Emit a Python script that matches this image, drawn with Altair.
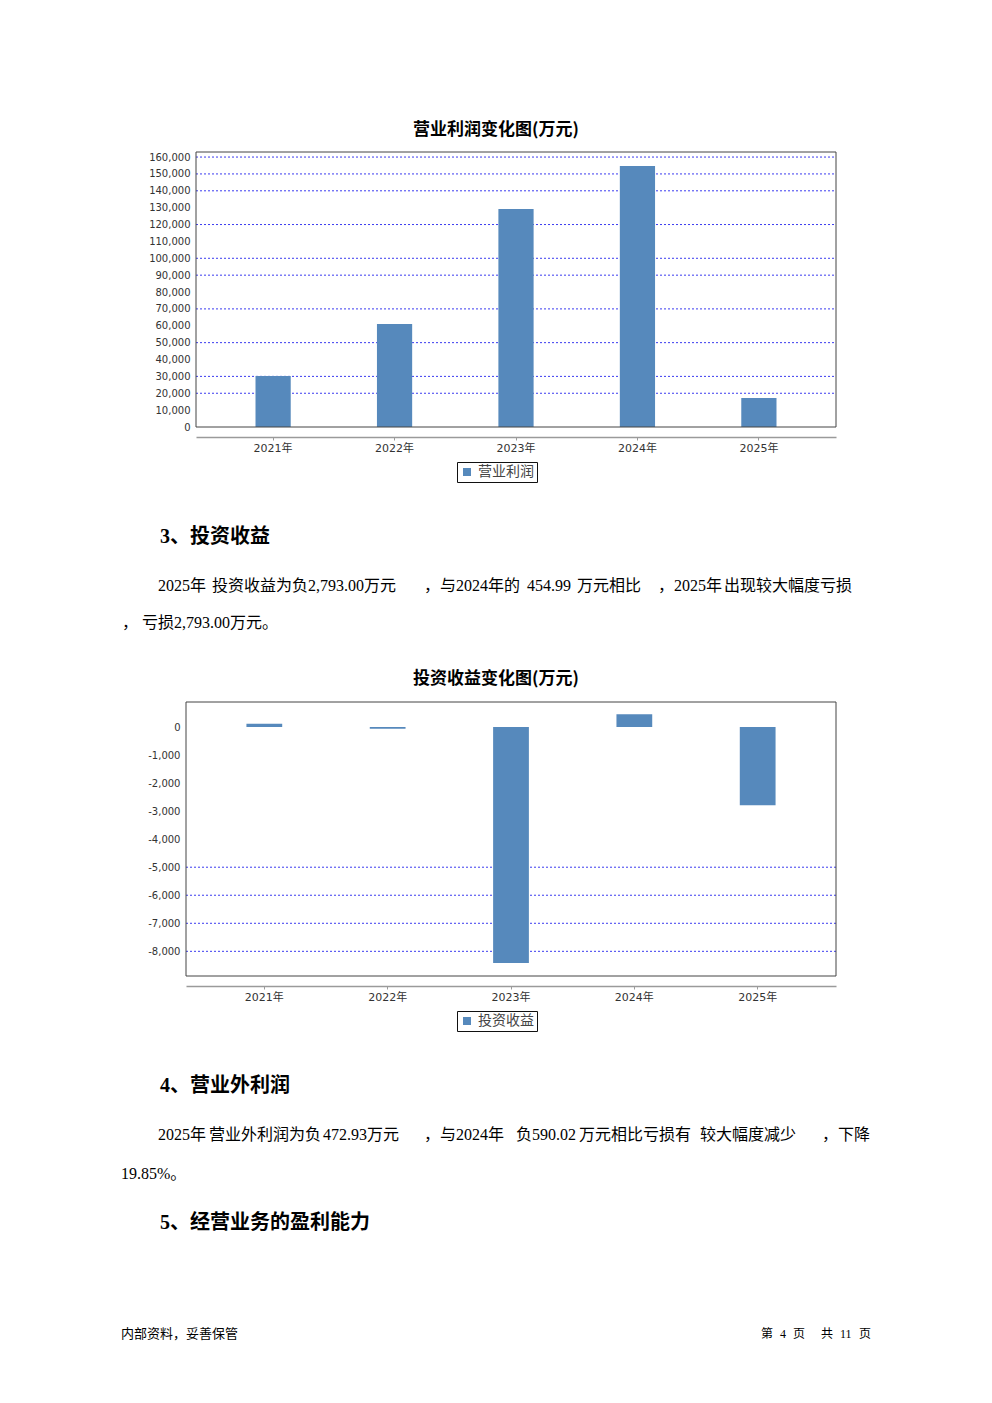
import altair as alt
import pandas as pd

# ---------------- data ----------------
years = ["2021年", "2022年", "2023年", "2024年", "2025年"]
op_profit = [30230, 61050, 129200, 154700, 17190]          # 营业利润 (万元)
inv_income = [115, -60, -8417, 454.99, -2793.00]           # 投资收益 (万元)
op_ticks = list(range(0, 160001, 10000))
inv_ticks = list(range(-8000, 1, 1000))
op_grid = [160000, 150000, 140000, 120000, 100000, 90000, 70000, 50000, 30000, 20000]
inv_grid = [-5000, -6000, -7000, -8000]

BAR = "#5689bc"
SERIF_CJK = "Liberation Serif, Noto Sans CJK SC"
SANS = "DejaVu Sans, Noto Sans CJK SC"
CJK = "Noto Sans CJK SC"

PAGE_W, PAGE_H = 976, 1387   # drawing area (page minus 8px margin)


def bar_chart(values, series, domain, ticks, grid, x_range, y_range, xaxis_y,
              legend_x, legend_y):
    df = pd.DataFrame({"year": years, "value": values, "series": [series] * len(years)})
    gdf = pd.DataFrame({"g": grid})
    fdf = pd.DataFrame({"hi": [domain[1]], "lo": [domain[0]]})
    yscale = alt.Scale(domain=domain, range=y_range, nice=False, zero=True)
    yaxis = alt.Axis(title=None, orient="left", offset=-x_range[0], values=ticks,
                     format=",d", labelExpr="replace(datum.label, '\u2212', '-')",
                     grid=False, domain=False, ticks=False, labelPadding=6,
                     labelFont="DejaVu Sans", labelFontSize=10, labelColor="#333")
    xaxis = alt.Axis(title=None, orient="bottom", offset=xaxis_y - PAGE_H, labelAngle=0,
                     domainColor="#9a9a9a", domainWidth=1.5, tickColor="#9a9a9a",
                     tickSize=3, labelPadding=2, labelFont=SANS, labelFontSize=11,
                     labelColor="#333", grid=False)
    xscale = alt.Scale(domain=years, range=x_range, paddingInner=0.71, paddingOuter=0.49)
    grid_layer = alt.Chart(gdf).mark_rule(
        color="#3b3bf0", strokeDash=[2, 2], strokeWidth=1
    ).encode(y=alt.Y("g:Q", scale=yscale, axis=yaxis),
             x=alt.value(x_range[0]), x2=alt.value(x_range[1]))
    bars = alt.Chart(df).mark_bar().encode(
        x=alt.X("year:N", sort=years, scale=xscale, axis=xaxis),
        y=alt.Y("value:Q", scale=yscale, axis=yaxis),
        color=alt.Color("series:N", scale=alt.Scale(range=[BAR]),
                        legend=alt.Legend(title=None, orient="none", legendX=legend_x,
                                          legendY=legend_y, symbolType="square",
                                          symbolSize=64, symbolStrokeWidth=0,
                                          labelFont=CJK, labelFontSize=14,
                                          labelColor="#444", padding=3,
                                          strokeColor="#111", fillColor="white",
                                          labelOffset=4)),
    )
    frame = alt.Chart(fdf).mark_rect(fillOpacity=0, stroke="#444", strokeWidth=1).encode(
        y=alt.Y("hi:Q", scale=yscale, axis=yaxis), y2="lo:Q",
        x=alt.value(x_range[0]), x2=alt.value(x_range[1]))
    return alt.layer(grid_layer, bars, frame)


def text_layer(s, x, y, size, weight, font, align="left"):
    return alt.Chart(pd.DataFrame({"t": [s]})).mark_text(
        align=align, baseline="middle", font=font, fontSize=size,
        fontWeight=weight, color="#000"
    ).encode(text="t:N", x=alt.value(x - 8), y=alt.value(y - 7))


# (text, page x, page y, size, weight, font, align)
texts = [
    ("营业利润变化图(万元)", 496, 129, 17, "bold", CJK, "center"),
    ("投资收益变化图(万元)", 496, 678, 17, "bold", CJK, "center"),
    ("3、投资收益", 160, 536, 20, "bold", SERIF_CJK, "left"),
    ("2025年", 158, 585, 16, "normal", SERIF_CJK, "left"),
    ("投资收益为负2,793.00万元", 212, 585, 16, "normal", SERIF_CJK, "left"),
    ("，与2024年的", 424, 585, 16, "normal", SERIF_CJK, "left"),
    ("454.99", 527, 585, 16, "normal", SERIF_CJK, "left"),
    ("万元相比", 577, 585, 16, "normal", SERIF_CJK, "left"),
    ("，2025年", 658, 585, 16, "normal", SERIF_CJK, "left"),
    ("出现较大幅度亏损", 724, 585, 16, "normal", SERIF_CJK, "left"),
    ("，", 122, 622, 16, "normal", SERIF_CJK, "left"),
    ("亏损2,793.00万元。", 142, 622, 16, "normal", SERIF_CJK, "left"),
    ("4、营业外利润", 160, 1085, 20, "bold", SERIF_CJK, "left"),
    ("2025年", 158, 1134, 16, "normal", SERIF_CJK, "left"),
    ("营业外利润为负", 209, 1134, 16, "normal", SERIF_CJK, "left"),
    ("472.93万元", 323, 1134, 16, "normal", SERIF_CJK, "left"),
    ("，与2024年", 424, 1134, 16, "normal", SERIF_CJK, "left"),
    ("负590.02", 516, 1134, 16, "normal", SERIF_CJK, "left"),
    ("万元相比亏损有", 579, 1134, 16, "normal", SERIF_CJK, "left"),
    ("较大幅度减少", 700, 1134, 16, "normal", SERIF_CJK, "left"),
    ("，下降", 822, 1134, 16, "normal", SERIF_CJK, "left"),
    ("19.85%。", 121, 1173, 16, "normal", SERIF_CJK, "left"),
    ("5、经营业务的盈利能力", 160, 1222, 20, "bold", SERIF_CJK, "left"),
    ("内部资料，妥善保管", 121, 1333, 13, "normal", SERIF_CJK, "left"),
    ("第", 761, 1333, 12, "normal", SERIF_CJK, "left"),
    ("4", 780, 1333, 12, "normal", SERIF_CJK, "left"),
    ("页", 793, 1333, 12, "normal", SERIF_CJK, "left"),
    ("共", 821, 1333, 12, "normal", SERIF_CJK, "left"),
    ("11", 840, 1333, 12, "normal", SERIF_CJK, "left"),
    ("页", 859, 1333, 12, "normal", SERIF_CJK, "left"),
]

# chart 1: plot area page x 196-836, y 152-427 ; x axis line at page y 437
chart1 = bar_chart(op_profit, "营业利润", [0, 163000], op_ticks, op_grid,
                   [196 - 8, 836 - 8], [427 - 8, 152 - 8], 437 - 8, 457 - 8, 462 - 8)
# chart 2: plot area page x 186-836, y 702-976 ; x axis line at page y 986
chart2 = bar_chart(inv_income, "投资收益", [-8880, 892], inv_ticks, inv_grid,
                   [186 - 8, 836 - 8], [976 - 8, 702 - 8], 986 - 8, 457 - 8, 1011 - 8)

layers = [chart1, chart2] + [text_layer(*t) for t in texts]

chart = alt.layer(*layers).resolve_scale(
    x="independent", y="independent", color="independent"
).resolve_axis(x="independent", y="independent").resolve_legend(
    color="independent"
).properties(width=PAGE_W, height=PAGE_H, padding=0).configure_view(stroke="transparent")

chart.save("out.html", embed_options={"renderer": "svg", "actions": False})
